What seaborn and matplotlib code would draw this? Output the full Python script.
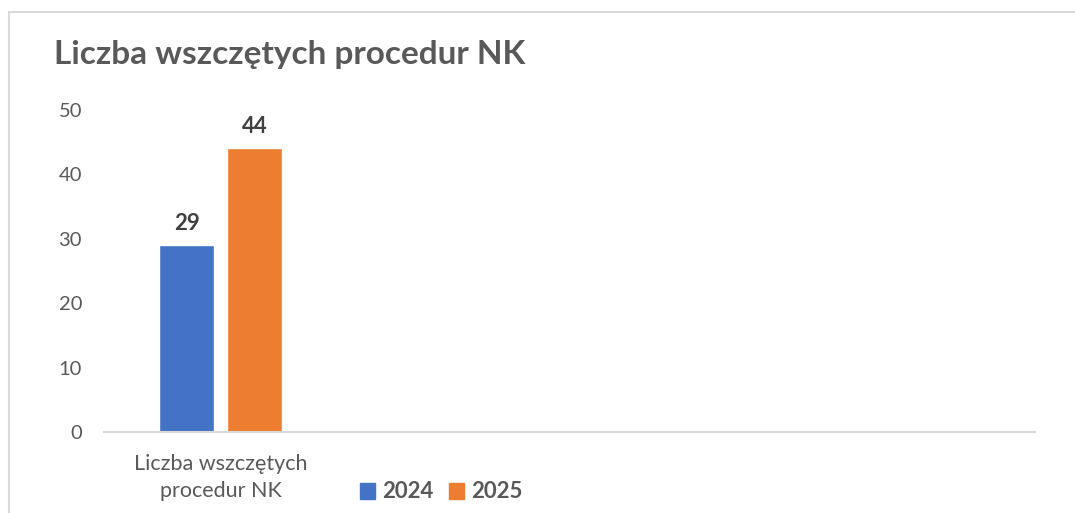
import matplotlib
matplotlib.use("Agg")
import matplotlib.pyplot as plt
import matplotlib.patches as mpatches
import pandas as pd
import seaborn as sns

# --- data ---
categories = ["Liczba wszczętych\nprocedur NK"]
years = ["2024", "2025"]
values_2024 = [29]
values_2025 = [44]
colors = ["#4472C4", "#ED7D31"]

TEXT_GRAY = "#595959"
LABEL_GRAY = "#404040"
LINE_GRAY = "#D9D9D9"


def main():
    df = pd.DataFrame({
        "category": categories * 2,
        "year": [years[0]] * len(values_2024) + [years[1]] * len(values_2025),
        "value": values_2024 + values_2025,
    })

    sns.set_theme(style="white")
    plt.rcParams["font.family"] = ["Lato", "DejaVu Sans"]

    fig = plt.figure(figsize=(10.75, 5.13), dpi=100)
    ax = fig.add_axes([0.097, 0.158, 0.866, 0.628])

    sns.barplot(
        data=df, x="category", y="value", hue="year",
        palette=colors, saturation=1, width=0.584, gap=0.19,
        legend=False, ax=ax,
    )

    for container in ax.containers:
        ax.bar_label(container, fmt="%d", padding=8, fontsize=16,
                     fontweight="bold", color=LABEL_GRAY)

    ax.set_xlim(-0.5, 3.5)
    ax.set_ylim(0, 50)
    ax.set_yticks(range(0, 51, 10))
    ax.set_xlabel("")
    ax.set_ylabel("")
    ax.tick_params(axis="y", length=0, pad=16, labelsize=14.5, labelcolor=TEXT_GRAY)
    ax.tick_params(axis="x", length=0, pad=16, labelsize=15.5, labelcolor=TEXT_GRAY)
    for lbl in ax.get_xticklabels():
        lbl.set_linespacing(1.45)

    for side in ["top", "right", "left"]:
        ax.spines[side].set_visible(False)
    ax.spines["bottom"].set_color(LINE_GRAY)
    ax.spines["bottom"].set_linewidth(1.5)
    ax.grid(False)

    fig.text(54 / 1075, 1 - 55 / 513, "Liczba wszczętych procedur NK",
             fontsize=24, fontweight="bold", color=TEXT_GRAY,
             ha="left", va="center")

    handles = [mpatches.Patch(color=c, label=y) for c, y in zip(colors, years)]
    leg = fig.legend(handles=handles, loc="center",
                     bbox_to_anchor=(441 / 1075, 1 - 492 / 513),
                     ncol=2, frameon=False, handlelength=0.7, handleheight=0.7,
                     handletextpad=0.3, columnspacing=0.7,
                     prop={"size": 16, "weight": "bold"})
    for t in leg.get_texts():
        t.set_color(TEXT_GRAY)

    # chart frame, cut off by the image edges on the right and bottom
    frame = mpatches.Rectangle((9 / 1075, -0.1), 1.2, 1 - 12 / 513 + 0.1,
                               transform=fig.transFigure, fill=False,
                               edgecolor=LINE_GRAY, linewidth=1.5)
    fig.patches.append(frame)

    fig.savefig("out.png", dpi=100)
    plt.close(fig)


if __name__ == "__main__":
    main()
